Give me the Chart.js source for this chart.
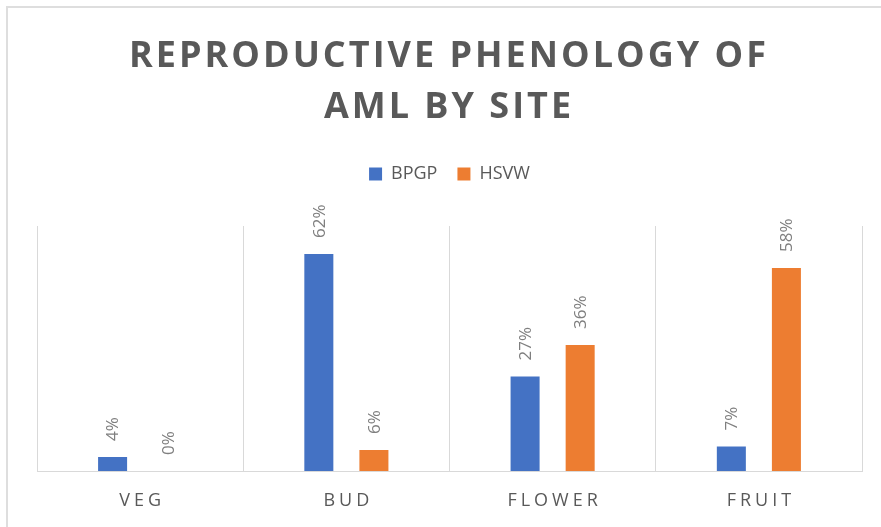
<!DOCTYPE html>
<html>
<head>
<meta charset="utf-8">
<script src="https://cdn.jsdelivr.net/npm/chart.js@4/dist/chart.umd.min.js"></script>
<style>
  html,body{margin:0;padding:0;background:#fff;overflow:hidden;}
  #frame{position:absolute;left:6px;top:6px;width:900px;height:560px;border:2px solid #dedede;}
  #wrap{position:absolute;left:0;top:0;width:881px;height:527px;}
</style>
</head>
<body>
<div id="frame"></div>
<div id="wrap"><canvas id="chart" width="881" height="527"></canvas></div>

<script>
/* ===============================
   DATA
================================ */

const titleLines = ["REPRODUCTIVE PHENOLOGY OF", "AML BY SITE"];
const categories = ["VEG", "BUD", "FLOWER", "FRUIT"];
const seriesNames = ["BPGP", "HSVW"];
const bpgpValues = [4, 62, 27, 7];
const hsvwValues = [0, 6, 36, 58];
const seriesColors = ["#4472C4", "#ED7D31"];


/* LEGEND GAP (extra room under the legend) */
const legendGapPlugin = {
  id: "legendGap",
  afterInit(chart){
    const legend = chart.legend;
    const fit = legend.fit;
    legend.fit = function(){
      fit.call(this);
      this.height += 33;
    };
  }
};


/* TITLE */
const titlePlugin = {
  id: "spacedTitle",
  afterDraw(chart){
    const ctx = chart.ctx;
    ctx.save();
    ctx.font = "bold 36px 'Open Sans'";
    ctx.fillStyle = "#595959";
    ctx.textAlign = "center";
    ctx.textBaseline = "alphabetic";
    ctx.letterSpacing = "3px";
    ctx.fillText(titleLines[0], 449, 67);
    ctx.fillText(titleLines[1], 449, 118);
    ctx.restore();
  }
};


/* CATEGORY LABELS */
const axisLabelPlugin = {
  id: "spacedAxis",
  afterDraw(chart){
    const ctx = chart.ctx;
    const xScale = chart.scales.x;
    ctx.save();
    ctx.font = "18px 'Open Sans'";
    ctx.fillStyle = "#595959";
    ctx.textAlign = "center";
    ctx.textBaseline = "alphabetic";
    ctx.letterSpacing = "4px";
    categories.forEach((c,i)=>{
      ctx.fillText(c, xScale.getPixelForValue(i) + 2, 506);
    });
    ctx.restore();
  }
};


/* VALUE LABELS */
const valueLabelPlugin = {
  id: "valueLabels",
  afterDatasetsDraw(chart){
    const ctx = chart.ctx;
    ctx.save();
    ctx.font = "17px 'Open Sans'";
    ctx.fillStyle = "#7f7f7f";
    ctx.textAlign = "left";
    ctx.textBaseline = "middle";
    chart.data.datasets.forEach((ds,di)=>{
      chart.getDatasetMeta(di).data.forEach((bar,i)=>{
        ctx.save();
        ctx.translate(bar.x, bar.y - 16);
        ctx.rotate(-Math.PI/2);
        ctx.fillText(ds.data[i] + "%", 0, 1);
        ctx.restore();
      });
    });
    ctx.restore();
  }
};


/* CHART */
new Chart(document.getElementById("chart"),{
  type:"bar",
  data:{
    labels:categories,
    datasets:[
      {label:seriesNames[0], data:bpgpValues, backgroundColor:seriesColors[0]},
      {label:seriesNames[1], data:hsvwValues, backgroundColor:seriesColors[1]}
    ]
  },
  options:{
    responsive:false,
    animation:false,
    categoryPercentage:0.534,
    barPercentage:0.527,
    layout:{padding:{left:37, right:19, top:145, bottom:56}},
    plugins:{
      legend:{
        position:"top",
        labels:{
          color:"#595959",
          font:{family:"Open Sans", size:18},
          boxWidth:13,
          boxHeight:13,
          padding:20
        }
      },
      tooltip:{enabled:false}
    },
    scales:{
      x:{
        grid:{color:"#d9d9d9", drawTicks:false, offset:true},
        border:{color:"#d9d9d9"},
        ticks:{display:false}
      },
      y:{
        display:false,
        min:0,
        max:70
      }
    }
  },
  plugins:[legendGapPlugin, titlePlugin, axisLabelPlugin, valueLabelPlugin]
});
</script>
</body>
</html>
